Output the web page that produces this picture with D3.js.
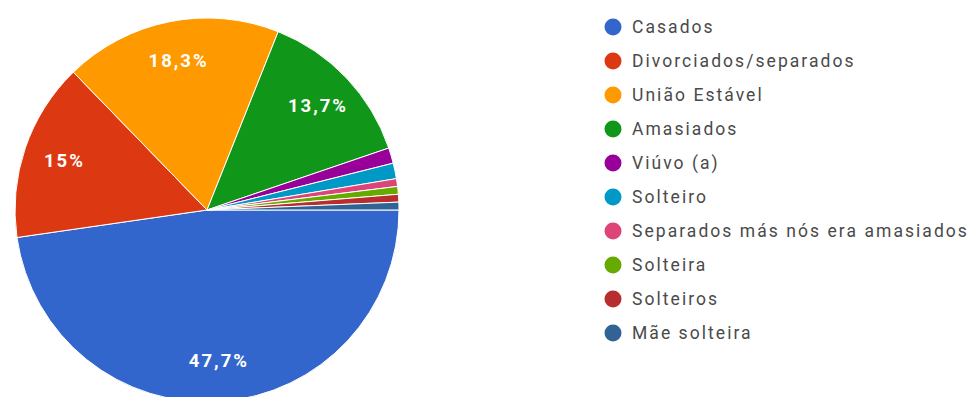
<!DOCTYPE html>
<html>
<head>
<meta charset="utf-8">
<script src="https://cdn.jsdelivr.net/npm/d3@7"></script>
<style>
  html, body { margin: 0; padding: 0; background: #fff; }
  svg { display: block; }
</style>
</head>
<body>
<svg id="chart" width="973" height="397"></svg>
<script>
// Estado civil dos respondentes (número de respostas)
const categories = [
  "Casados",
  "Divorciados/separados",
  "União Estável",
  "Amasiados",
  "Viúvo (a)",
  "Solteiro",
  "Separados más nós era amasiados",
  "Solteira",
  "Solteiros",
  "Mãe solteira"
];
const counts = [73, 23, 28, 21, 2, 2, 1, 1, 1, 1];
const colors = [
  "#3366cc", "#dc3912", "#ff9900", "#109618", "#990099",
  "#0099c6", "#dd4477", "#66aa00", "#b82e2e", "#316395"
];

const svg = d3.select("#chart");
const cx = 207, cy = 210, radius = 192;
const total = d3.sum(counts);

const ptBR = d3.formatLocale({ decimal: ",", thousands: ".", grouping: [3], currency: ["R$", ""] });
const fmt = ptBR.format(".1~f");

const data = categories.map((name, i) => ({ name, value: counts[i], color: colors[i] }));

const pie = d3.pie()
  .value(d => d.value)
  .sort(null)
  .startAngle(Math.PI / 2)
  .endAngle(Math.PI / 2 + 2 * Math.PI);

const arc = d3.arc().innerRadius(0).outerRadius(radius);
const labelArc = d3.arc().innerRadius(radius * 0.79).outerRadius(radius * 0.79);

const g = svg.append("g").attr("transform", `translate(${cx},${cy})`);
const arcs = pie(data);

g.selectAll("path.slice")
  .data(arcs)
  .join("path")
  .attr("class", "slice")
  .attr("d", arc)
  .attr("fill", d => d.data.color)
  .attr("stroke", "#fff")
  .attr("stroke-width", 1);

// Percentage labels on the larger slices
g.selectAll("text.pct")
  .data(arcs.filter(d => d.data.value / total >= 0.05))
  .join("text")
  .attr("class", "pct")
  .attr("transform", d => `translate(${labelArc.centroid(d)})`)
  .attr("text-anchor", "middle")
  .attr("dominant-baseline", "central")
  .attr("dx", 1)
  .style("font-family", "Roboto, Arial, sans-serif")
  .style("font-weight", "bold")
  .style("font-size", "18.5px")
  .style("letter-spacing", "2px")
  .attr("fill", "#fff")
  .text(d => fmt(d.data.value / total * 100) + "%");

// Legend
const legend = svg.append("g").attr("transform", "translate(613,27)");
const rowH = 34;
const item = legend.selectAll("g.item")
  .data(data)
  .join("g")
  .attr("class", "item")
  .attr("transform", (d, i) => `translate(0,${i * rowH})`);

item.append("circle")
  .attr("r", 8.5)
  .attr("fill", d => d.color);

item.append("text")
  .attr("x", 19)
  .attr("dominant-baseline", "central")
  .style("font-family", "Roboto, Arial, sans-serif")
  .style("font-size", "17.5px")
  .style("letter-spacing", "2.05px")
  .attr("fill", "#4a4a4a")
  .text(d => d.name);
</script>
</body>
</html>
